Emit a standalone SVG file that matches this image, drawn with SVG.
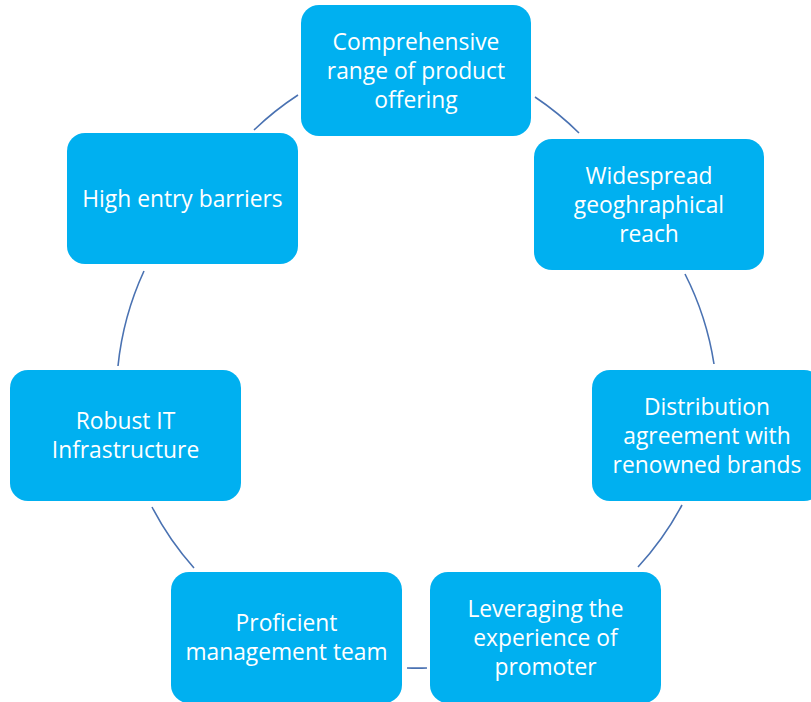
<svg xmlns="http://www.w3.org/2000/svg" width="811" height="702" viewBox="0 0 811 702">
<style>
.node rect{fill:#00B0F0;}
.node text{fill:#FFFFFF;font-family:"Open Sans","Liberation Sans",sans-serif;font-size:22.8px;text-anchor:middle;}
.conn path{fill:none;stroke:#4A72B2;stroke-width:1.6;}
</style>
<rect width="811" height="702" fill="#FFFFFF"/>
<g id="connectors" class="conn">
<path d="M535,97 A299,299 0 0 1 579,133"/>
<path d="M685,274 A299,299 0 0 1 714,364"/>
<path d="M682,505 A299,299 0 0 1 638,567"/>
<path d="M427,668 A299,299 0 0 1 407,668"/>
<path d="M194,568 A299,299 0 0 1 152,507"/>
<path d="M118,366 A299,299 0 0 1 144,271"/>
<path d="M254,130 A299,299 0 0 1 298,95"/>
</g>
<g id="n1" class="node"><rect x="301" y="5" width="230" height="131" rx="18"/>
<text x="416" y="49.5">Comprehensive</text><text x="416" y="78.5">range of product</text><text x="416" y="107.5">offering</text></g>
<g id="n2" class="node"><rect x="534" y="139" width="230" height="131" rx="18"/>
<text x="649" y="183.5">Widespread</text><text x="649" y="212.5">geoghraphical</text><text x="649" y="241.5">reach</text></g>
<g id="n3" class="node"><rect x="592" y="370" width="230" height="131" rx="18"/>
<text x="707" y="414.5">Distribution</text><text x="707" y="443.5">agreement with</text><text x="707" y="472.5">renowned brands</text></g>
<g id="n4" class="node"><rect x="430" y="572" width="231" height="131" rx="18"/>
<text x="545.5" y="616.5">Leveraging the</text><text x="545.5" y="645.5">experience of</text><text x="545.5" y="674.5">promoter</text></g>
<g id="n5" class="node"><rect x="171" y="572" width="231" height="131" rx="18"/>
<text x="286.5" y="631">Proficient</text><text x="286.5" y="660">management team</text></g>
<g id="n6" class="node"><rect x="10" y="370" width="231" height="131" rx="18"/>
<text x="125.5" y="428.5">Robust IT</text><text x="125.5" y="457.5">Infrastructure</text></g>
<g id="n7" class="node"><rect x="67" y="133" width="231" height="131" rx="18"/>
<text x="182.5" y="206.5">High entry barriers</text></g>
</svg>
